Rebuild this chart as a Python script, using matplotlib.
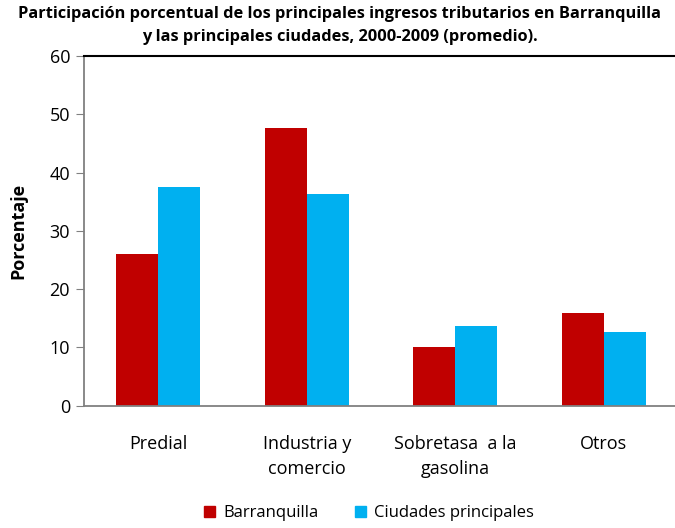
import numpy as np
import matplotlib
matplotlib.use('Agg')
from matplotlib import pyplot as plt
from matplotlib.patches import Patch

plt.rcParams['font.family'] = ['Open Sans', 'DejaVu Sans']

categorias = ['Predial', 'Industria y\ncomercio', 'Sobretasa  a la\ngasolina', 'Otros']
barranquilla = [26.1, 47.6, 10.0, 15.9]
ciudades = [37.5, 36.3, 13.6, 12.7]
series = ['Barranquilla', 'Ciudades principales']
colores = ['#C00000', '#00B0F0']

fig = plt.figure(figsize=(6.75, 5.28), dpi=100)
ax = fig.add_axes([84 / 675, 1 - 405.7 / 528, 594 / 675, (405.7 - 56) / 528])

x = np.arange(len(categorias))
w = 0.283
ax.bar(x - w / 2, barranquilla, w, color=colores[0])
ax.bar(x + w / 2, ciudades, w, color=colores[1])

ax.set_xlim(-0.5, len(categorias) - 0.5)
ax.set_ylim(0, 60)
ax.set_yticks(range(0, 61, 10))
ax.set_xticks(x)
ax.set_xticklabels(categorias, fontsize=13, linespacing=1.5)
ax.tick_params(axis='x', length=0, pad=21)
ax.tick_params(axis='y', length=6, color='#808080', labelsize=13, pad=4)

for s in ['left', 'bottom']:
    ax.spines[s].set_color('#808080')
    ax.spines[s].set_linewidth(1.3)
ax.spines['top'].set_color('black')
ax.spines['top'].set_linewidth(1.5)
ax.spines['right'].set_visible(False)

ax.set_ylabel('Porcentaje', fontsize=13, fontweight='bold')
ax.yaxis.set_label_coords(-57 / 594, 0.5)

fig.text(340 / 675, 1 - 14 / 528,
         'Participación porcentual de los principales ingresos tributarios en Barranquilla',
         ha='center', va='center', fontsize=11.8, fontweight='bold')
fig.text(340 / 675, 1 - 37 / 528,
         'y las principales ciudades, 2000-2009 (promedio).',
         ha='center', va='center', fontsize=11.8, fontweight='bold')

handles = [Patch(color=c, label=s) for c, s in zip(colores, series)]
fig.legend(handles=handles, loc='center', bbox_to_anchor=(369 / 675, 1 - 513 / 528),
           ncol=2, frameon=False, fontsize=12, handlelength=0.65, handleheight=0.65,
           columnspacing=2.2, handletextpad=0.5)

fig.savefig('out.png', dpi=100)
